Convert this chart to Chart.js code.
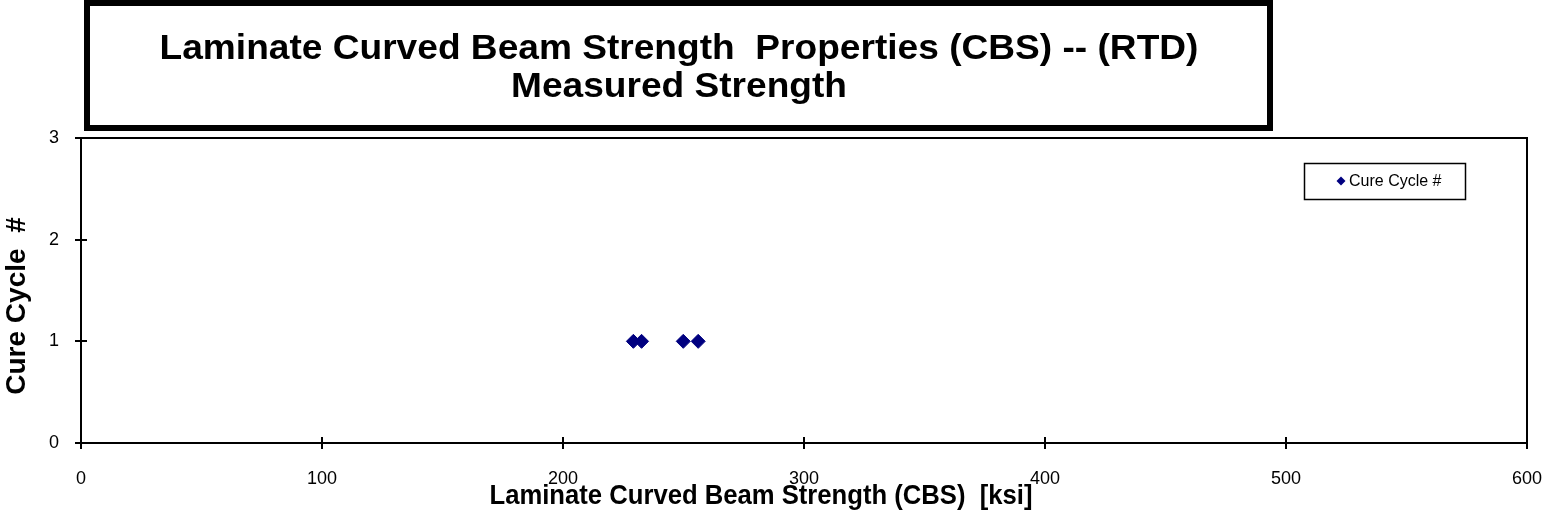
<!DOCTYPE html>
<html>
<head>
<meta charset="utf-8">
<script src="https://cdn.jsdelivr.net/npm/chart.js@4/dist/chart.umd.min.js"></script>
<style>
html,body{margin:0;padding:0;background:#fff;}
canvas{display:block;}
</style>
</head>
<body>
<canvas id="c" width="1550" height="519"></canvas>
<script>
// ---- data ----
const seriesLabel = 'Cure Cycle #';
const strengthValues = [229.2, 232.6, 249.9, 256.1];
const cureCycleValues = [1, 1, 1, 1];
const xTickValues = [0, 100, 200, 300, 400, 500, 600];
const yTickValues = [0, 1, 2, 3];
const titleLines = ['Laminate Curved Beam Strength  Properties (CBS) -- (RTD)', 'Measured Strength'];
const xAxisTitle = 'Laminate Curved Beam Strength (CBS)  [ksi]';
const yAxisTitle = 'Cure Cycle  #';

const FONT = '"Liberation Sans", Arial, Helvetica, sans-serif';
const NAVY = '#000080';

const points = strengthValues.map((v, i) => ({x: v, y: cureCycleValues[i]}));

function stretchedText(ctx, text, x, y, sx) {
  ctx.save();
  ctx.translate(x, y);
  ctx.scale(sx, 1);
  ctx.fillText(text, 0, 0);
  ctx.restore();
}

const decor = {
  id: 'decor',
  beforeDatasetsDraw(chart) {
    const {ctx, chartArea: a, scales} = chart;
    ctx.save();
    ctx.strokeStyle = '#000';
    ctx.lineWidth = 2;
    ctx.strokeRect(a.left, a.top, a.right - a.left, a.bottom - a.top);
    // inner half of crossing tick marks
    ctx.beginPath();
    scales.x.ticks.forEach(t => {
      const px = Math.round(scales.x.getPixelForValue(t.value));
      ctx.moveTo(px, a.bottom);
      ctx.lineTo(px, a.bottom - 6);
    });
    scales.y.ticks.forEach(t => {
      const py = Math.round(scales.y.getPixelForValue(t.value));
      ctx.moveTo(a.left, py);
      ctx.lineTo(a.left + 6, py);
    });
    ctx.stroke();
    ctx.restore();
  },
  afterDraw(chart) {
    const {ctx} = chart;
    ctx.save();
    // title box
    ctx.strokeStyle = '#000';
    ctx.lineWidth = 6;
    ctx.strokeRect(87, 3, 1183, 125);
    ctx.fillStyle = '#000';
    ctx.textAlign = 'center';
    ctx.textBaseline = 'alphabetic';
    ctx.font = 'bold 35px ' + FONT;
    stretchedText(ctx, titleLines[0], 679, 59, 1.06);
    stretchedText(ctx, titleLines[1], 679, 97, 1.06);
    // axis titles
    ctx.font = 'bold 27px ' + FONT;
    ctx.textBaseline = 'middle';
    stretchedText(ctx, xAxisTitle, 761, 497, 0.95);
    ctx.save();
    ctx.translate(17, 306);
    ctx.rotate(-Math.PI / 2);
    ctx.font = 'bold 28px ' + FONT;
    ctx.fillText(yAxisTitle, 0, 0);
    ctx.restore();
    // legend
    ctx.lineWidth = 1.5;
    ctx.strokeRect(1304.5, 163.5, 161, 36);
    ctx.fillStyle = NAVY;
    ctx.beginPath();
    ctx.moveTo(1341 - 4.5, 181);
    ctx.lineTo(1341, 181 - 4.5);
    ctx.lineTo(1341 + 4.5, 181);
    ctx.lineTo(1341, 181 + 4.5);
    ctx.closePath();
    ctx.fill();
    ctx.fillStyle = '#000';
    ctx.textAlign = 'left';
    ctx.font = '16px ' + FONT;
    ctx.fillText(chart.data.datasets[0].label, 1349, 182);
    ctx.restore();
  }
};

new Chart(document.getElementById('c'), {
  type: 'scatter',
  data: {
    datasets: [{
      label: seriesLabel,
      data: points,
      pointStyle: 'rectRot',
      pointRadius: 7,
      pointBorderWidth: 1,
      backgroundColor: NAVY,
      borderColor: NAVY,
      showLine: false
    }]
  },
  options: {
    responsive: false,
    animation: false,
    layout: {padding: {top: 138, right: 23, left: 0, bottom: 0}},
    plugins: {
      legend: {display: false},
      title: {display: false},
      tooltip: {enabled: false}
    },
    scales: {
      x: {
        type: 'linear',
        min: 0, max: 600,
        afterBuildTicks: s => { s.ticks = xTickValues.map(v => ({value: v})); },
        afterFit: s => { s.height = 76; s.paddingLeft = 0; s.paddingRight = 0; },
        grid: {drawOnChartArea: false, drawTicks: true, tickLength: 6, color: '#000', lineWidth: 2},
        border: {color: '#000', width: 2},
        ticks: {color: '#000', font: {family: FONT, size: 18}, padding: 19, maxRotation: 0, autoSkip: false}
      },
      y: {
        type: 'linear',
        min: 0, max: 3,
        afterBuildTicks: s => { s.ticks = yTickValues.map(v => ({value: v})); },
        afterFit: s => { s.width = 81; s.paddingTop = 0; s.paddingBottom = 0; },
        grid: {drawOnChartArea: false, drawTicks: true, tickLength: 6, color: '#000', lineWidth: 2},
        border: {color: '#000', width: 2},
        ticks: {color: '#000', font: {family: FONT, size: 18}, padding: 16, autoSkip: false}
      }
    }
  },
  plugins: [decor]
});
</script>
</body>
</html>
